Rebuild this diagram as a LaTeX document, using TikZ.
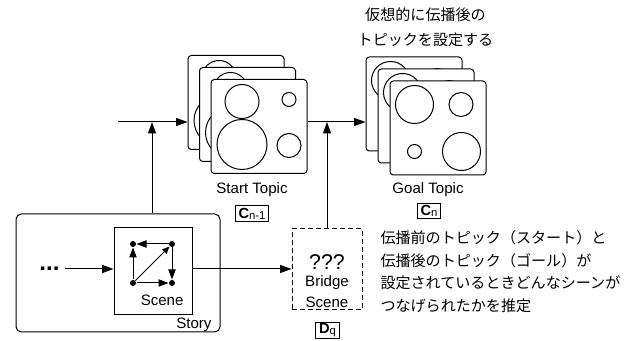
\documentclass[tikz,border=0pt]{standalone}
\usepackage{fontspec}
\setmainfont{Liberation Sans}
\newfontfamily\cjk{Noto Sans CJK JP}
\usetikzlibrary{arrows.meta}
\newcommand\mysub[1]{{\fontsize{8.5}{8.5}\selectfont\raisebox{-0.2ex}{#1}}}
\begin{document}
\begin{tikzpicture}[x=0.75pt,y=-0.75pt,
  line width=0.75pt,
  font=\fontsize{11.3}{13.5}\selectfont,
  card/.style={draw,fill=white,rounded corners=2.5pt,minimum width=72pt,minimum height=70.5pt,inner sep=0pt},
  arr/.style={-{Triangle[length=8.5pt,width=6pt]}},
  garr/.style={-{Triangle[length=7.5pt,width=5.5pt]}},
  darr/.style={-{Triangle[length=5.5pt,width=4.5pt]}},
  dot/.style={circle,fill,inner sep=0pt,minimum size=4.5pt},
  lbl/.style={draw,inner xsep=2.5pt,inner ysep=0.5pt,minimum height=11.5pt,font=\fontsize{11}{12}\selectfont},
  jp/.style={font=\cjk\fontsize{11.3}{13.5}\selectfont,inner sep=0pt},
  txt/.style={inner sep=0pt},
  startcard/.pic={
    \node[card] (-box) at (0,0) {};
    \draw (-17,-25) circle[radius=12.75pt];
    \draw (30,-27) circle[radius=5.25pt];
    \draw (-17,18) circle[radius=18.75pt];
    \draw (30,19) circle[radius=9pt];
  },
  goalcard/.pic={
    \node[card] (-box) at (0,0) {};
    \draw (-23.5,-23.5) circle[radius=14.25pt];
    \draw (23,-23.5) circle[radius=9pt];
    \draw (-23.5,23.5) circle[radius=5.25pt];
    \draw (23.5,23.5) circle[radius=14.25pt];
  }
]
\useasboundingbox (0,0) rectangle (640,341);

% topic stacks
\pic (s1) at (236,102.5) {startcard};
\pic (s2) at (247.5,114.5) {startcard};
\pic (s3) at (259,126.5) {startcard};
\pic (g1) at (414,104) {goalcard};
\pic (g2) at (426,116) {goalcard};
\pic (g3) at (438,128) {goalcard};

\node[txt] (st) at (252,190) {Start Topic};
\node[txt] (gt) at (428,190) {Goal Topic};
\node[lbl] (cs) at (252,213.5) {\textbf{C}\mysub{n-1}};
\node[lbl] (cg) at (429,211) {\textbf{C}\mysub{n}};

\node[jp] (h1) at (425.5,15) {仮想的に伝播後の};
\node[jp] (h2) at (425.5,40) {トピックを設定する};

% story and scene
\node[draw,rounded corners=4pt,minimum width=153pt,minimum height=88.5pt,inner sep=0pt] (story) at (118,273) {};
\node[draw,fill=white,minimum width=58.5pt,minimum height=65.25pt,inner sep=0pt] (scene) at (153,271.5) {};
\node[txt,anchor=base east] (scl) at (184,306) {Scene};
\node[txt,anchor=base east] (stl) at (212,328.5) {Story};

\node[dot] (d1) at (133,244) {};
\node[dot] (d2) at (172,244) {};
\node[dot] (d3) at (133,283) {};
\node[dot] (d4) at (172,283) {};
\draw[garr] (d2) -- (d1);
\draw[garr] (d3) -- (d1);
\draw[garr] (d2) -- (d4);
\draw[garr] (d3) -- (d4);
\draw[darr] (d3) -- (d2);

\node[txt,anchor=base,font=\fontsize{18}{18}\selectfont\bfseries] (dots) at (49.5,270.5) {...};

% bridge scene
\node[draw,dashed,dash pattern=on 3.5pt off 2.5pt,minimum width=52.5pt,minimum height=60.75pt,inner sep=0pt] (bridge) at (327,269.5) {};
\node[txt,font=\fontsize{16}{16}\selectfont] (qq) at (327,262) {???};
\node[txt] (bl1) at (327,283) {Bridge};
\node[txt] (bl2) at (327,302) {Scene};
\node[lbl] (dq) at (327.5,330.5) {\textbf{D}\mysub{q}};

% description
\node[jp,anchor=west] (t1) at (380,238) {伝播前のトピック（スタート）と};
\node[jp,anchor=west] (t2) at (380,260.5) {伝播後のトピック（ゴール）が};
\node[jp,anchor=west] (t3) at (380,283) {設定されているときどんなシーンが};
\node[jp,anchor=west] (t4) at (380,306) {つなげられたかを推定};

% connectors
\coordinate (in) at (118,122);
\coordinate (j1) at (152,122);
\coordinate (j2) at (327,122);
\coordinate (sb) at (200,269);
\coordinate (da) at (65,269);
\draw[arr] (in) -- (in -| s1-box.west);
\draw[arr] (story.north -| j1) -- (j1);
\draw[arr] (s3-box.east |- j2) -- (j2 -| g1-box.west);
\draw[arr] (bridge.north) -- (j2);
\draw[arr] (sb -| scene.east) -- (sb -| bridge.west);
\draw[arr] (da) -- (da -| scene.west);
\end{tikzpicture}
\end{document}
